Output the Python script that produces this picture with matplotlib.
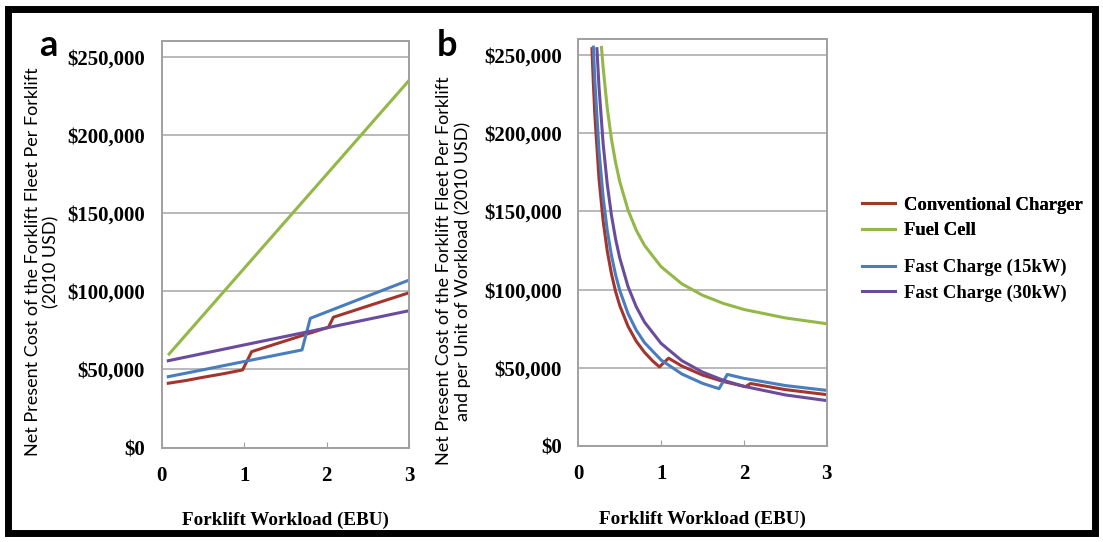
import matplotlib
matplotlib.use("Agg")
import matplotlib.pyplot as plt
from matplotlib.ticker import FuncFormatter
from matplotlib.patches import Rectangle

labels = ["Conventional Charger", "Fuel Cell", "Fast Charge (15kW)", "Fast Charge (30kW)"]
colors = ["#A3352F", "#94B848", "#4A7DBE", "#6A4C9C"]

# (a) net present cost per forklift against workload
conv_x = [0.08, 0.3, 0.5, 0.75, 0.98, 1.09, 1.5, 2.02, 2.08, 2.5, 3.0]
conv_y = [41200, 43000, 45000, 47300, 49700, 61400, 68300, 77000, 83400, 90600, 99100]
fuel_x = [0.09, 1.0, 2.0, 3.0]
fuel_y = [59900, 114700, 174800, 235000]
fast15_x = [0.08, 0.5, 1.0, 1.70, 1.80, 2.4, 3.0]
fast15_y = [45400, 49800, 55100, 62500, 82700, 95000, 107200]
fast30_x = [0.08, 1.0, 2.0, 3.0]
fast30_y = [55600, 65700, 76600, 87600]

# (b) the same cost per unit of workload
conv_bx = [0.165, 0.18, 0.2, 0.25, 0.3, 0.35, 0.4, 0.45, 0.5, 0.6, 0.7, 0.8, 0.9, 0.98,
           1.09, 1.25, 1.5, 1.75, 2.02, 2.08, 2.5, 3.0]
conv_by = [254000, 233900, 211500, 170800, 144000, 124600, 110300, 98900, 90000, 76700,
           67100, 60000, 54400, 50700, 56300, 51300, 45500, 41400, 38100, 40100, 36200, 33000]
fuel_bx = [0.28, 0.3, 0.35, 0.4, 0.45, 0.5, 0.6, 0.7, 0.8, 1.0, 1.25, 1.5, 1.75, 2.0, 2.5, 3.0]
fuel_by = [254800, 241800, 215900, 196400, 181300, 169200, 151000, 138000, 128300, 114700,
           103800, 96500, 91300, 87400, 82000, 78300]
fast15_bx = [0.182, 0.2, 0.25, 0.3, 0.35, 0.4, 0.45, 0.5, 0.6, 0.7, 0.8, 1.0, 1.25, 1.5,
             1.70, 1.80, 2.0, 2.5, 3.0]
fast15_by = [255000, 233500, 188800, 159000, 137800, 122000, 109600, 99700, 84800, 74200,
             66200, 55100, 46200, 40200, 36800, 45900, 43400, 38800, 35700]
fast30_bx = [0.225, 0.25, 0.3, 0.35, 0.4, 0.45, 0.5, 0.6, 0.7, 0.8, 1.0, 1.25, 1.5, 1.75,
             2.0, 2.5, 3.0]
fast30_by = [254000, 229600, 193300, 167300, 147700, 132500, 120400, 102100, 89100, 79300,
             65700, 54700, 47400, 42200, 38300, 32800, 29200]

panel_a = [(conv_x, conv_y), (fuel_x, fuel_y), (fast15_x, fast15_y), (fast30_x, fast30_y)]
panel_b = [(conv_bx, conv_by), (fuel_bx, fuel_by), (fast15_bx, fast15_by), (fast30_bx, fast30_by)]

serif = "Liberation Serif"
sans = "Lato"

fig = plt.figure(figsize=(11.03, 5.42), dpi=100)
ax_a = fig.add_axes([0.1466, 0.1740, 0.2245, 0.7504])
ax_b = fig.add_axes([0.5243, 0.1766, 0.2252, 0.7509])

money = FuncFormatter(lambda v, pos: "${:,.0f}".format(v))

for ax, data in [(ax_a, panel_a), (ax_b, panel_b)]:
    lines = []
    for (x, y), c, lab in zip(data, colors, labels):
        ln, = ax.plot(x, y, color=c, lw=2.2, label=lab, solid_joinstyle="round")
        lines.append(ln)
    ax.set_xlim(0, 3)
    ax.set_ylim(0, 260000)
    ax.set_xticks([0, 1, 2, 3])
    ax.set_yticks(range(0, 250001, 50000))
    ax.yaxis.set_major_formatter(money)
    ax.grid(axis="y", color="#A6A6A6", lw=1.1)
    ax.set_axisbelow(True)
    for s in ax.spines.values():
        s.set_color("#A0A0A0")
        s.set_linewidth(1.4)
    ax.tick_params(axis="x", direction="in", length=4, color="#A0A0A0", pad=13)
    ax.tick_params(axis="y", length=0, pad=12)
    for t in ax.get_xticklabels() + ax.get_yticklabels():
        t.set_fontfamily(serif)
        t.set_fontweight("bold")
        t.set_fontsize(15)
    ax.set_xlabel("Forklift Workload (EBU)", fontfamily=serif, fontweight="bold",
                  fontsize=13.8, labelpad=19)

fig.text(0.0385, 0.517, "Net Present Cost of the Forklift Fleet Per Forklift\n(2010 USD)",
         rotation=90, ha="center", va="center", multialignment="center",
         fontfamily=sans, fontsize=13, linespacing=1.2)
fig.text(0.411, 0.500, "Net Present Cost of the Forklift Fleet Per Forklift\n"
         "and per Unit of Workload (2010 USD)",
         rotation=90, ha="center", va="center", multialignment="center",
         fontfamily=sans, fontsize=13, linespacing=1.2)

fig.text(0.044, 0.897, "a", fontfamily=sans, fontweight="bold", fontsize=26,
         ha="center", va="baseline")
fig.text(0.405, 0.897, "b", fontfamily=sans, fontweight="bold", fontsize=26,
         ha="center", va="baseline")

# legend split in two blocks, the second one sits a little lower
handles = lines
leg_kw = dict(frameon=False, handlelength=1.75, handletextpad=0.5, labelspacing=0.45,
              borderpad=0, prop={"family": serif, "weight": "bold", "size": 13.4},
              borderaxespad=0)
leg1 = fig.legend(handles[:2], labels[:2], loc="upper left",
                  bbox_to_anchor=(0.7815, 0.637), **leg_kw)
fig.add_artist(leg1)
fig.legend(handles[2:], labels[2:], loc="upper left",
           bbox_to_anchor=(0.7815, 0.522), **leg_kw)

# black frame around the whole figure
fig.add_artist(Rectangle((0.0077, 0.0157), 0.9846, 0.9686, transform=fig.transFigure,
                         fill=False, edgecolor="black", lw=5, zorder=10))

fig.savefig("out.png", dpi=100)
